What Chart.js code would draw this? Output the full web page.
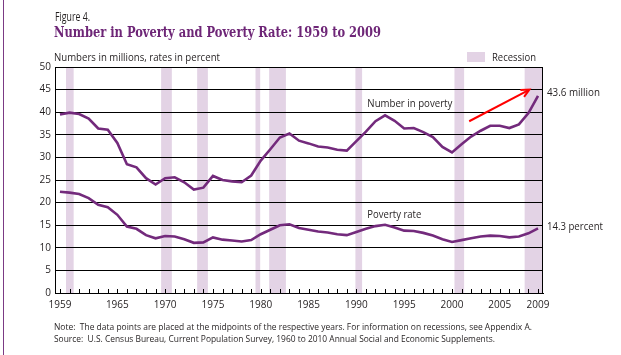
<!DOCTYPE html>
<html>
<head>
<meta charset="utf-8">
<script src="https://cdn.jsdelivr.net/npm/chart.js@4.4.1/dist/chart.umd.min.js"></script>
<style>
  html,body{margin:0;padding:0;background:#fff;}
  #wrap{position:relative;width:621px;height:355px;overflow:hidden;background:#fff;}
  #vline{position:absolute;left:3px;top:0;width:1px;height:355px;background:#7b3a84;}
  .t{position:absolute;white-space:nowrap;transform-origin:0 50%;line-height:1;font-family:"Open Sans",sans-serif;color:#231f20;}
  #title{font-family:"DejaVu Serif",serif;font-weight:bold;color:#6e2677;}
  #legbox{position:absolute;left:467px;top:52px;width:18px;height:10px;background:#e3d3e5;}
  canvas{position:absolute;left:0;top:0;}
</style>
</head>
<body>
<div id="wrap">
  <canvas id="c" width="621" height="355"></canvas>
  <div id="vline"></div>
  <div class="t" id="fig" data-w="35" data-cy="16.5" style="left:55px;font-size:12px;">Figure 4.</div>
  <div class="t" id="title" data-w="327" data-cy="32" style="left:54px;font-size:14px;">Number in Poverty and Poverty Rate: 1959 to 2009</div>
  <div class="t" id="units" data-w="166" data-cy="57" style="left:54px;font-size:10px;">Numbers in millions, rates in percent</div>
  <div id="legbox"></div>
  <div class="t" id="rec" data-w="44" data-cy="57" style="left:492px;font-size:10px;">Recession</div>
  <div class="t" id="note" data-w="478" data-cy="326" style="left:54px;font-size:9px;">Note:&nbsp; The data points are placed at the midpoints of the respective years. For information on recessions, see Appendix A.</div>
  <div class="t" id="source" data-w="441" data-cy="338" style="left:54px;font-size:9px;">Source:&nbsp; U.S. Census Bureau, Current Population Survey, 1960 to 2010 Annual Social and Economic Supplements.</div>
</div>
<script>
// ---- data ----
const years = [1959,1960,1961,1962,1963,1964,1965,1966,1967,1968,1969,1970,1971,1972,1973,1974,1975,1976,1977,1978,1979,1980,1981,1982,1983,1984,1985,1986,1987,1988,1989,1990,1991,1992,1993,1994,1995,1996,1997,1998,1999,2000,2001,2002,2003,2004,2005,2006,2007,2008,2009];
const povertyNumber = [39.5,39.9,39.6,38.6,36.4,36.1,33.2,28.5,27.8,25.4,24.0,25.4,25.6,24.5,22.9,23.3,25.9,25.0,24.7,24.5,26.0,29.3,31.8,34.4,35.3,33.7,33.1,32.4,32.2,31.7,31.5,33.6,35.7,38.0,39.3,38.1,36.4,36.5,35.6,34.5,32.3,31.1,32.9,34.6,35.9,37.0,37.0,36.5,37.3,39.8,43.6];
const povertyRate = [22.4,22.2,21.9,21.0,19.5,19.0,17.3,14.7,14.2,12.8,12.1,12.6,12.5,11.9,11.1,11.2,12.3,11.8,11.6,11.4,11.7,13.0,14.0,15.0,15.2,14.4,14.0,13.6,13.4,13.0,12.8,13.5,14.2,14.8,15.1,14.5,13.8,13.7,13.3,12.7,11.9,11.3,11.7,12.1,12.5,12.7,12.6,12.3,12.5,13.2,14.3];
const tickYears = [1959,1965,1970,1975,1980,1985,1990,1995,2000,2005,2009];
const yTicks = [0,5,10,15,20,25,30,35,40,45,50];
const recessionStart = [1959.63,1969.58,1973.35,1979.45,1980.88,1989.9,2000.26,2007.6];
const recessionEnd   = [1960.43,1970.70,1974.47,1979.94,1982.63,1990.6,2001.27,2009.52];
const seriesLabels = ["Number in poverty","Poverty rate"];
const endLabels = ["43.6 million","14.3 percent"];

// ---- style ----
const LINE = '#732a7c';
const BAND = '#e3d3e5';
const FONT = '"Open Sans", sans-serif';

function fitText(ctx, text, x, y, target, size, align){
  ctx.font = size + 'px ' + FONT;
  const w = ctx.measureText(text).width;
  const sx = target / w;
  ctx.save();
  ctx.translate(x, y);
  ctx.scale(sx, 1);
  ctx.textBaseline = 'middle';
  ctx.textAlign = align || 'left';
  ctx.fillText(text, 0, 0);
  ctx.restore();
}

const deco = {
  id: 'deco',
  beforeDraw(chart){
    const {ctx, chartArea:a, scales:{x}} = chart;
    ctx.save();
    ctx.fillStyle = BAND;
    recessionStart.forEach((s,i)=>{
      const x0 = x.getPixelForValue(s), x1 = x.getPixelForValue(recessionEnd[i]);
      ctx.fillRect(x0, a.top, x1-x0, a.bottom-a.top);
    });
    ctx.restore();
  },
  beforeDatasetsDraw(chart){
    const {ctx, chartArea:a, scales:{x}} = chart;
    ctx.save();
    ctx.strokeStyle = '#000';
    ctx.lineWidth = 1;
    ctx.beginPath();
    ctx.moveTo(Math.round(a.right)-0.5, a.top);
    ctx.lineTo(Math.round(a.right)-0.5, a.bottom);
    years.forEach(yr=>{
      const px = Math.round(x.getPixelForValue(yr)) + 0.5;
      ctx.moveTo(px, a.bottom);
      ctx.lineTo(px, a.bottom - 4);
    });
    ctx.stroke();
    ctx.restore();
  },
  afterDraw(chart){
    const {ctx, chartArea:a, scales:{x,y}} = chart;
    ctx.save();
    ctx.fillStyle = '#231f20';
    fitText(ctx, seriesLabels[0], x.getPixelForValue(1991.15), y.getPixelForValue(41.7), 85, 10);
    fitText(ctx, seriesLabels[1], x.getPixelForValue(1991.15), y.getPixelForValue(17.2), 54, 10);
    fitText(ctx, endLabels[0], a.right + 4, y.getPixelForValue(44.2), 53, 10);
    fitText(ctx, endLabels[1], a.right + 4, y.getPixelForValue(14.6), 56, 10);
    // red arrow
    const x0 = x.getPixelForValue(2001.8), y0 = y.getPixelForValue(38.0);
    const x1 = x.getPixelForValue(2008.1), y1 = y.getPixelForValue(45.0);
    ctx.strokeStyle = '#ff0000';
    ctx.fillStyle = '#ff0000';
    ctx.lineWidth = 2;
    const ang = Math.atan2(y1-y0, x1-x0);
    const hl = 9;
    ctx.beginPath();
    ctx.moveTo(x0,y0);
    ctx.lineTo(x1 - Math.cos(ang)*2, y1 - Math.sin(ang)*2);
    ctx.stroke();
    ctx.beginPath();
    ctx.moveTo(x1 - hl*Math.cos(ang - 0.45), y1 - hl*Math.sin(ang - 0.45));
    ctx.lineTo(x1, y1);
    ctx.lineTo(x1 - hl*Math.cos(ang + 0.45), y1 - hl*Math.sin(ang + 0.45));
    ctx.stroke();
    ctx.restore();
  }
};

const toPts = arr => years.map((yr,i)=>({x:yr, y:arr[i]}));

new Chart(document.getElementById('c'), {
  type: 'line',
  data: {
    datasets: [
      {label: seriesLabels[0], data: toPts(povertyNumber), borderColor: LINE, borderWidth: 2.6, pointRadius: 0, tension: 0, fill: false},
      {label: seriesLabels[1], data: toPts(povertyRate), borderColor: LINE, borderWidth: 2.6, pointRadius: 0, tension: 0, fill: false}
    ]
  },
  options: {
    responsive: false,
    animation: false,
    events: [],
    layout: {padding: {left: 0, top: 67, right: 78, bottom: 0}},
    plugins: {legend: {display: false}, tooltip: {enabled: false}, title: {display: false}},
    scales: {
      x: {
        type: 'linear', min: 1958.48, max: 2009.52,
        grid: {display: false, drawTicks: false},
        border: {display: true, color: '#000', width: 1},
        afterBuildTicks: s => { s.ticks = tickYears.map(v=>({value:v})); },
        afterFit: s => { s.height = 62; },
        ticks: {padding: 6, color: '#231f20', font: {family: FONT, size: 10}, maxRotation: 0, autoSkip: false, callback: v => String(v)}
      },
      y: {
        min: 0, max: 50,
        grid: {color: '#000', lineWidth: 1, drawTicks: false},
        border: {display: true, color: '#000', width: 1},
        afterBuildTicks: s => { s.ticks = yTicks.map(v=>({value:v})); },
        afterFit: s => { s.width = 55; },
        ticks: {padding: 4, color: '#231f20', font: {family: FONT, size: 10}, callback: v => String(v)}
      }
    }
  },
  plugins: [deco]
});

// fit HTML texts to their reference widths
document.querySelectorAll('.t').forEach(el=>{
  const w = el.getBoundingClientRect().width;
  const h = el.getBoundingClientRect().height;
  const target = parseFloat(el.dataset.w);
  el.style.transform = 'scaleX(' + (target / w) + ')';
  el.style.top = (parseFloat(el.dataset.cy) - h/2) + 'px';
});
</script>
</body>
</html>
